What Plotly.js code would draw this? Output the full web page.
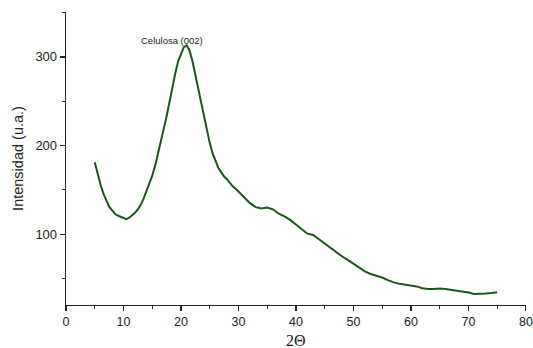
<!DOCTYPE html>
<html>
<head>
<meta charset="utf-8">
<script src="https://cdn.plot.ly/plotly-3.0.1.min.js"></script>
<style>html,body{margin:0;padding:0;background:#fff;}#chart{width:533px;height:348px;}</style>
</head>
<body>
<div id="chart"></div>
<script>
const twoTheta = [5, 5.5, 6, 6.5, 7, 7.5, 8, 8.5, 9, 9.5, 10, 10.5, 11, 11.5, 12, 12.5, 13, 13.5, 14, 14.5, 15, 15.5, 16, 16.5, 17, 17.5, 18, 18.5, 19, 19.5, 20, 20.5, 21, 21.5, 22, 22.5, 23, 23.5, 24, 24.5, 25, 25.5, 26, 26.5, 27, 27.5, 28, 29, 30, 31, 32, 33, 34, 35, 36, 37, 38, 39, 40, 41, 42, 43, 44, 45, 46, 47, 48, 49, 50, 51, 52, 53, 54, 55, 56, 57, 58, 59, 60, 61, 62, 63, 64, 65, 66, 67, 68, 69, 70, 71, 72, 73, 74, 75];
const intensity = [181, 168, 156, 146, 139, 131, 127, 123, 121, 119.5, 118, 117, 118.5, 121, 124, 128, 133, 140, 148, 157, 166, 177, 190, 204, 219, 233, 250, 266, 281, 295, 304, 311, 313, 307, 295, 280, 263, 246, 232, 219, 203, 191, 182, 175, 170, 165, 162, 154, 148, 141, 135, 130.5, 129, 130, 128, 123, 120, 116, 111, 105, 100.5, 99, 94, 89, 85, 80, 75, 71, 67, 62, 58, 55, 53, 51, 48, 45.5, 44, 43, 42, 41, 39, 38, 38, 38.5, 38, 37, 36, 35.5, 34, 32.5, 32.5, 33, 33.5, 34.5];
const xTicks = [0, 10, 20, 30, 40, 50, 60, 70, 80];
const yTicks = [100, 200, 300];
const peakLabel = "Celulosa (002)";
const peakLabelPos = [18.5, 318];
const xTitle = "2Θ";
const yTitle = "Intensidad (u.a.)";

const trace = {
  x: twoTheta, y: intensity, type: 'scatter', mode: 'lines',
  line: {color: '#1c561c', width: 2}, hoverinfo: 'skip'
};
const layout = {
  width: 533, height: 348,
  margin: {l: 66, r: 7, t: 12, b: 43},
  paper_bgcolor: '#fff', plot_bgcolor: '#fff',
  showlegend: false,
  font: {family: 'Arial, Liberation Sans, sans-serif', color: '#222'},
  xaxis: {
    range: [0, 80.02], tickvals: xTicks, ticktext: xTicks.map(String),
    ticklabeloverflow: 'allow',
    showgrid: false, zeroline: false, showline: true, linecolor: '#222', linewidth: 1.3,
    ticks: 'outside', ticklen: 5, tickcolor: '#222', tickwidth: 1.2,
    minor: {dtick: 5, tick0: 0, ticks: 'outside', ticklen: 3, tickcolor: '#222', showgrid: false},
    tickfont: {size: 12.5, color: '#222'}
  },
  yaxis: {
    range: [20, 350.7], tickvals: yTicks, ticktext: yTicks.map(String),
    showgrid: false, zeroline: false, showline: true, linecolor: '#222', linewidth: 1.3,
    ticks: 'outside', ticklen: 5, tickcolor: '#222', tickwidth: 1.2,
    minor: {dtick: 50, tick0: 0, ticks: 'outside', ticklen: 3, tickcolor: '#222', showgrid: false},
    tickfont: {size: 13, color: '#222'},
    title: {text: yTitle, font: {size: 14.5, color: '#222'}, standoff: 8}
  },
  annotations: [{
    x: peakLabelPos[0], y: peakLabelPos[1], xref: 'x', yref: 'y',
    text: peakLabel, showarrow: false,
    font: {size: 9.5, color: '#222'}
  }, {
    x: 0.5, y: 0, xref: 'paper', yref: 'paper', yshift: -45, yanchor: 'bottom',
    text: xTitle, showarrow: false, borderpad: 0,
    font: {family: 'Liberation Serif', size: 16, color: '#222'}
  }]
};
Plotly.newPlot('chart', [trace], layout, {staticPlot: true, displayModeBar: false});
</script>
</body>
</html>
